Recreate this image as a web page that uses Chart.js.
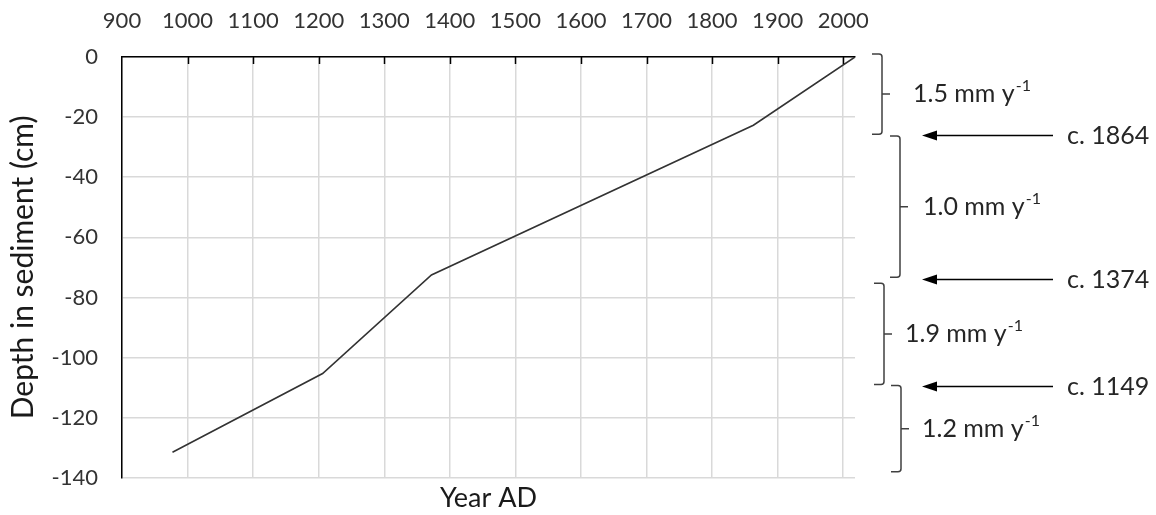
<!DOCTYPE html>
<html>
<head>
<meta charset="utf-8">
<script src="https://cdn.jsdelivr.net/npm/chart.js@4/dist/chart.umd.min.js"></script>
<style>
  html, body { margin: 0; padding: 0; background: #ffffff; }
  #wrap { width: 1156px; height: 515px; }
</style>
</head>
<body>
<div id="wrap"><canvas id="chart" width="1156" height="515"></canvas></div>
<script>
// Age-depth model of the core
const years  = [977, 1206, 1372, 1863, 2018];
const depths = [-131.5, -105.3, -72.5, -22.7, 0];

// Axis tick labels
const yearTicks  = [900, 1000, 1100, 1200, 1300, 1400, 1500, 1600, 1700, 1800, 1900, 2000];
const depthTicks = [0, -20, -40, -60, -80, -100, -120, -140];

// Dated horizons (depth in cm) and their labels
const horizonDepths = [-26, -74, -109.3];
const horizonLabels = ['c. 1864', 'c. 1374', 'c. 1149'];

// Accumulation-rate zones (top / bottom depth in cm) and rates
const zoneTops    = [1, -26.3, -75.3, -109.3];
const zoneBottoms = [-25.7, -73.3, -109, -138];
const zoneRates   = ['1.5', '1.0', '1.9', '1.2'];

const FONT = 'Lato, "Open Sans", sans-serif';

// Brackets, arrows and labels to the right of the plot
const sideNotes = {
  id: 'sideNotes',
  afterDraw(chart) {
    const { ctx, chartArea, scales } = chart;
    const x = scales.x, y = scales.y;
    const R = chartArea.right;
    ctx.save();

    // inward tick marks on the top axis
    ctx.strokeStyle = '#000000';
    ctx.lineWidth = 1.5;
    yearTicks.slice(1).forEach(v => {
      const px = Math.round(x.getPixelForValue(v)) + 0.5;
      ctx.beginPath();
      ctx.moveTo(px, chartArea.top);
      ctx.lineTo(px, chartArea.top + 7);
      ctx.stroke();
    });

    // rate brackets
    const spineOffset = [27, 45, 29, 46];
    const textGap = [31, 23, 21, 21];
    const hook = 10, tip = 8, r = 3;
    zoneTops.forEach((top, i) => {
      const y0 = y.getPixelForValue(top);
      const y1 = y.getPixelForValue(zoneBottoms[i]);
      const ym = (y0 + y1) / 2;
      const sx = R + spineOffset[i];
      ctx.strokeStyle = '#404040';
      ctx.lineWidth = 1.5;
      ctx.beginPath();
      ctx.moveTo(sx - hook, y0);
      ctx.lineTo(sx - r, y0);
      ctx.quadraticCurveTo(sx, y0, sx, y0 + r);
      ctx.lineTo(sx, y1 - r);
      ctx.quadraticCurveTo(sx, y1, sx - r, y1);
      ctx.lineTo(sx - hook, y1);
      ctx.moveTo(sx, ym);
      ctx.lineTo(sx + tip, ym);
      ctx.stroke();

      const tx = sx + textGap[i];
      const main = zoneRates[i] + ' mm y';
      ctx.fillStyle = '#262626';
      ctx.textBaseline = 'middle';
      ctx.textAlign = 'left';
      ctx.font = '25px ' + FONT;
      ctx.fillText(main, tx, ym);
      const w = ctx.measureText(main).width;
      ctx.font = '16px ' + FONT;
      ctx.fillText('-1', tx + w + 1, ym - 8);
    });

    // horizon arrows
    horizonDepths.forEach((d, i) => {
      const py = Math.round(y.getPixelForValue(d)) + 0.5;
      const x0 = R + 198, x1 = R + 67;
      ctx.strokeStyle = '#000000';
      ctx.fillStyle = '#000000';
      ctx.lineWidth = 1.5;
      ctx.beginPath();
      ctx.moveTo(x0, py);
      ctx.lineTo(x1 + 12, py);
      ctx.stroke();
      ctx.beginPath();
      ctx.moveTo(x1, py);
      ctx.lineTo(x1 + 15, py - 5);
      ctx.lineTo(x1 + 15, py + 5);
      ctx.closePath();
      ctx.fill();

      ctx.fillStyle = '#262626';
      ctx.font = '25px ' + FONT;
      ctx.textAlign = 'left';
      ctx.textBaseline = 'middle';
      ctx.fillText(horizonLabels[i], R + 212, py);
    });

    ctx.restore();
  }
};

new Chart(document.getElementById('chart'), {
  type: 'scatter',
  data: {
    datasets: [{
      data: years.map((yr, i) => ({ x: yr, y: depths[i] })),
      showLine: true,
      borderColor: '#333333',
      borderWidth: 1.6,
      pointRadius: 0,
      tension: 0,
      xAxisID: 'x',
      yAxisID: 'y'
    }]
  },
  options: {
    responsive: false,
    animation: false,
    devicePixelRatio: 1,
    layout: { padding: { left: 0, right: 301, top: 0, bottom: 0 } },
    plugins: { legend: { display: false }, tooltip: { enabled: false } },
    scales: {
      x: {
        type: 'linear',
        position: 'top',
        min: 900,
        max: 2018,
        afterBuildTicks: s => { s.ticks = yearTicks.map(v => ({ value: v })); },
        afterFit: s => { s.height = 57; },
        grid: { color: '#d9d9d9', lineWidth: 1.5, drawTicks: false },
        border: { color: '#000000', width: 1.5 },
        ticks: {
          padding: 23, color: '#333333', font: { family: FONT, size: 22 },
          maxRotation: 0, autoSkip: false,
          callback: v => String(v)
        }
      },
      xTitle: {
        type: 'linear',
        position: 'bottom',
        min: 900,
        max: 2018,
        grid: { display: false, drawTicks: false },
        border: { display: false },
        ticks: { display: false },
        afterFit: s => { s.height = 37; },
        title: { display: true, text: 'Year AD', color: '#1a1a1a', font: { family: FONT, size: 27 }, padding: { top: 0, bottom: 0 } }
      },
      y: {
        type: 'linear',
        min: -140,
        max: 0,
        afterBuildTicks: s => { s.ticks = depthTicks.map(v => ({ value: v })); },
        afterFit: s => { s.width = 122; },
        grid: { color: '#d9d9d9', lineWidth: 1.5, drawTicks: false },
        border: { color: '#000000', width: 1.5 },
        ticks: { padding: 24, color: '#333333', font: { family: FONT, size: 22 }, callback: v => String(v) },
        title: { display: true, text: 'Depth in sediment (cm)', color: '#1a1a1a', font: { family: FONT, size: 30 }, padding: { top: 5, bottom: 0 } }
      }
    }
  },
  plugins: [sideNotes]
});
</script>
</body>
</html>
